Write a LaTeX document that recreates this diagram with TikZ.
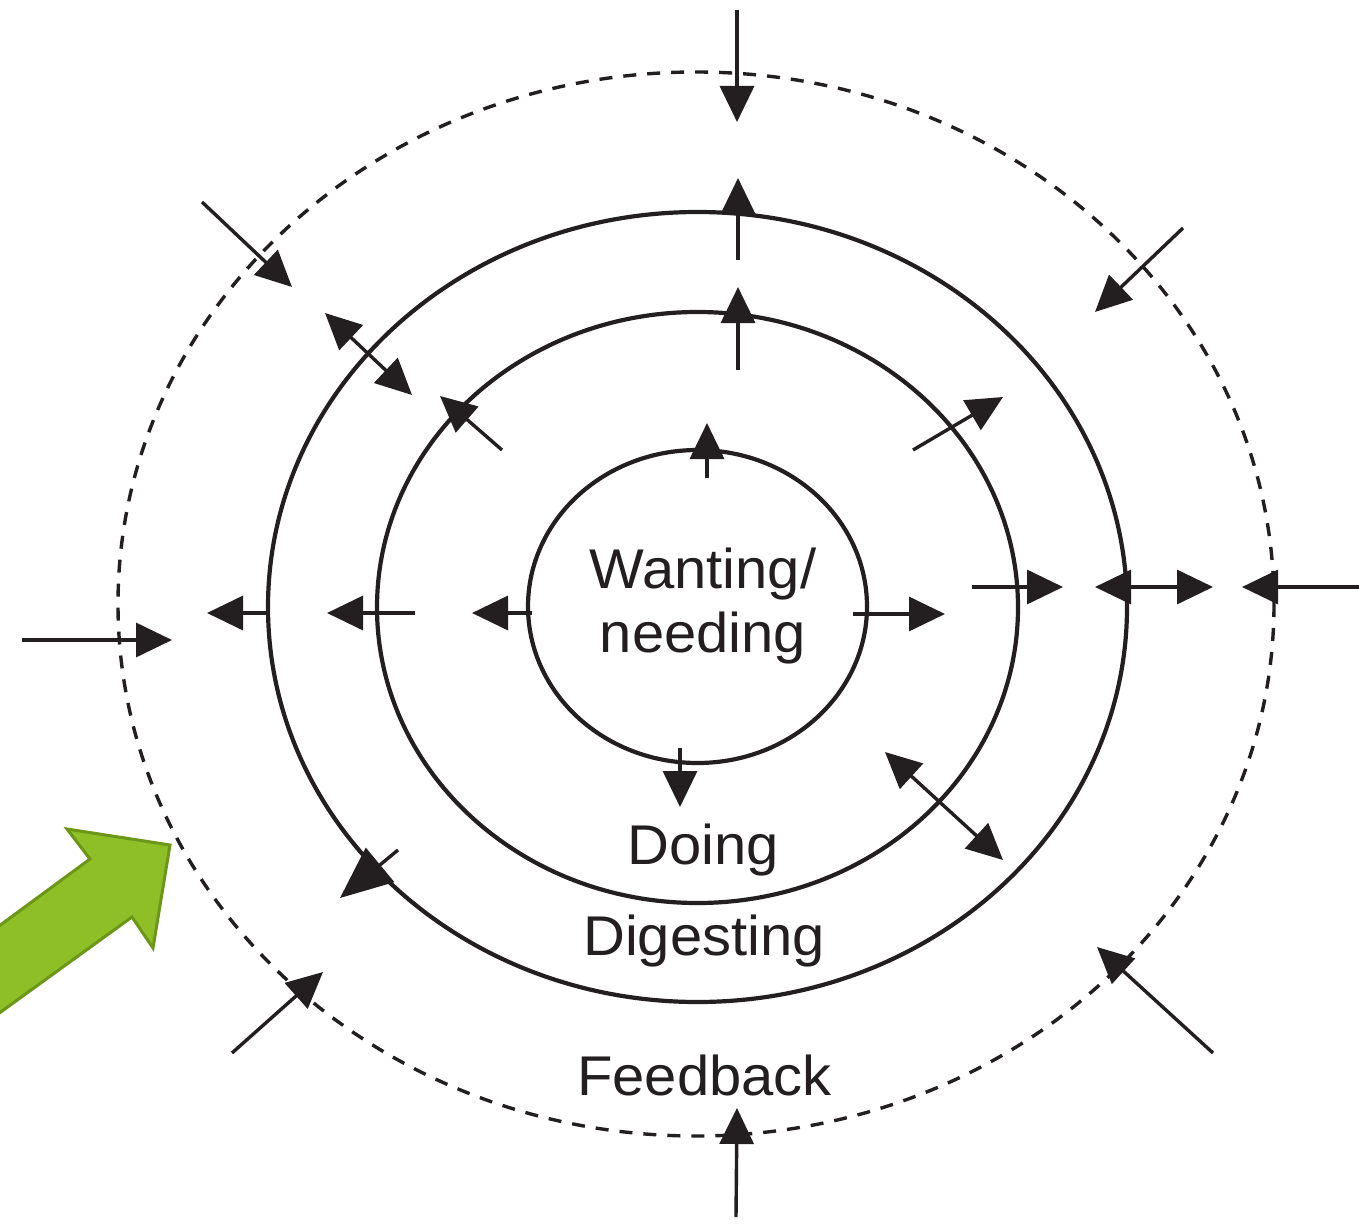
\documentclass[tikz,border=0pt]{standalone}
\usepackage{fontspec}
\setmainfont{Liberation Sans}
\usetikzlibrary{arrows.meta}
\definecolor{ink}{RGB}{35,31,32}
\definecolor{leaf}{RGB}{143,191,39}
\definecolor{leafedge}{RGB}{107,150,24}
\begin{document}
\begin{tikzpicture}[x=0.5pt,y=-0.5pt,
  ring/.style={draw=ink,line width=2.1pt},
  fbring/.style={draw=ink,line width=1.7pt,dash pattern=on 6.5pt off 5.5pt},
  arr/.style={draw=ink,line width=1.7pt,-{Triangle[length=18pt,width=17pt]}},
  darr/.style={draw=ink,line width=1.7pt,{Triangle[length=18pt,width=17pt]}-{Triangle[length=18pt,width=17pt]}},
  lbl/.style={text=ink,font=\fontsize{28}{32}\selectfont,anchor=base,inner sep=0pt,xscale=1.035}]
\fill[white] (0,0) rectangle (1359,1225);
\useasboundingbox (0,0) rectangle (1359,1225);
\clip (0,0) rectangle (1359,1225);

% centres
\coordinate (cin) at (697.5,606.5);
\coordinate (cmid) at (697.5,607.5);
\coordinate (cout) at (697.5,607);
\coordinate (cfb) at (696,604);

% rings
\draw[ring] (cin) ellipse [x radius=169.5, y radius=156.5];
\draw[ring] (cmid) ellipse [x radius=320.5, y radius=295.5];
\draw[ring] (cout) ellipse [x radius=429.5, y radius=395];
\draw[fbring] (cfb) ellipse [x radius=578, y radius=532];

% labels
\node[lbl] (wanting) at (703,588) {Wanting/};
\node[lbl] (needing) at (703,652) {needing};
\node[lbl] (doing) at (703,864) {Doing};
\node[lbl] (digesting) at (704,955) {Digesting};
\node[lbl] (feedback) at (704.5,1095) {Feedback};

% arrow end points
\coordinate (a1s) at (737,10);    \coordinate (a1t) at (737,122);
\coordinate (a2s) at (738,260);   \coordinate (a2t) at (738,178);
\coordinate (a3s) at (738,370);   \coordinate (a3t) at (738,287);
\coordinate (a4s) at (707,478);   \coordinate (a4t) at (707,423);
\coordinate (a5s) at (680,748);   \coordinate (a5t) at (680,807);
\coordinate (a6s) at (853,614);   \coordinate (a6t) at (945,614);
\coordinate (a7s) at (532,613);   \coordinate (a7t) at (472,613);
\coordinate (a8s) at (415,613);   \coordinate (a8t) at (327,613);
\coordinate (a9s) at (266,613);   \coordinate (a9t) at (207,613);
\coordinate (a10s) at (22,640);   \coordinate (a10t) at (172,640);
\coordinate (a11s) at (972,587);  \coordinate (a11t) at (1063,587);
\coordinate (a12s) at (1095,587); \coordinate (a12t) at (1213,587);
\coordinate (a13s) at (1359,587); \coordinate (a13t) at (1242,587);
\coordinate (a14s) at (913,450);  \coordinate (a14t) at (1003,397);
\coordinate (a15s) at (885,752);  \coordinate (a15t) at (1003,860);
\coordinate (a16s) at (325,313);  \coordinate (a16t) at (412,395);
\coordinate (a17s) at (502,450);  \coordinate (a17t) at (440,396);
\coordinate (a18s) at (202,202);  \coordinate (a18t) at (292,287);
\coordinate (a19s) at (1183,228); \coordinate (a19t) at (1095,312);
\coordinate (a20s) at (1213,1053);\coordinate (a20t) at (1097,947);
\coordinate (a21s) at (232,1053); \coordinate (a21t) at (323,972);
\coordinate (a22s) at (398,850);  \coordinate (a22t) at (340,898);
\coordinate (a23s) at (736,1217); \coordinate (a23t) at (737,1108);

\foreach \i in {1,2,3,4,5,6,7,8,9,10,11,13,14,17,18,19,20,21,23}
  \draw[arr] (a\i s) -- (a\i t);
\draw[darr] (a12s) -- (a12t);
\draw[darr] (a15s) -- (a15t);
\draw[darr] (a16s) -- (a16t);
\draw[draw=ink,line width=1.7pt,-{Triangle[length=26pt,width=22pt]}] (a22s) -- (a22t);

% green block arrow
\draw[fill=leaf,draw=leafedge,line width=1.5pt,line join=miter]
  (-20,940) -- (90,859) -- (67,829) -- (170,845) -- (153,948) -- (132,917) -- (-20,1027) -- cycle;
\end{tikzpicture}
\end{document}
